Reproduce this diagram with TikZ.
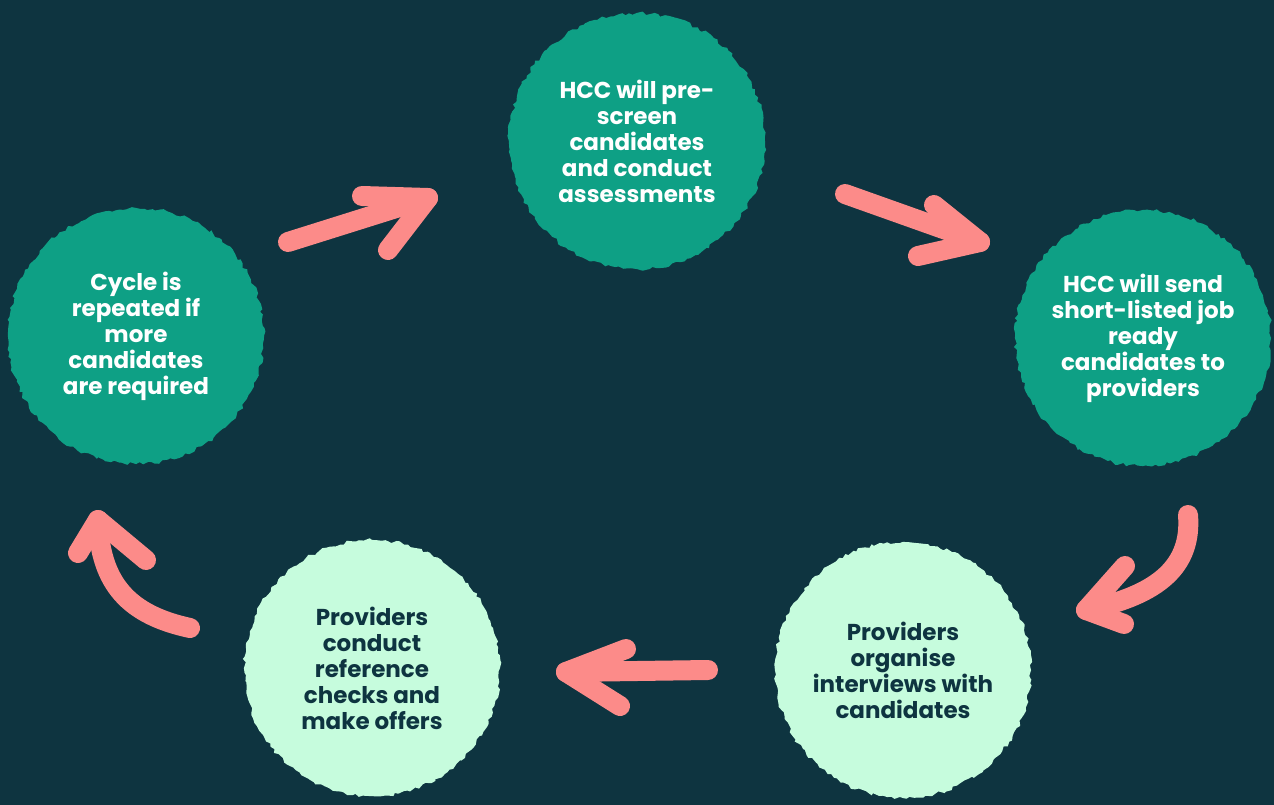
\documentclass[tikz,border=0pt]{standalone}
\usepackage{fontspec}
\setmainfont{Poppins}
\usepackage{tikz}
\usetikzlibrary{positioning, calc, decorations.pathmorphing}
\definecolor{bgTeal}{HTML}{0E3440}
\definecolor{darkBlob}{HTML}{0EA085}
\definecolor{lightBlob}{HTML}{C6FCDD}
\definecolor{arrowPink}{HTML}{FC8B89}
\tikzstyle{blob} = [circle, minimum size=256pt, inner sep=0pt, align=center, font=\fontsize{23}{26}\selectfont\bfseries,
    decorate, decoration={random steps, segment length=4pt, amplitude=1.8pt}]
\tikzstyle{darkstyle} = [fill=darkBlob, text=white]
\tikzstyle{lightstyle} = [fill=lightBlob, text=bgTeal]
\tikzstyle{stroke} = [draw=arrowPink, line width=20pt, line cap=round, line join=round]

\begin{document}
\begin{tikzpicture}[x=1pt, y=-1pt]

\fill[bgTeal] (0,0) rectangle (1274,805);
\useasboundingbox (0,0) rectangle (1274,805);

\node (prescreen) [blob, darkstyle] at (637,141) {HCC will pre-\\screen\\candidates\\and conduct\\assessments};
\node (send) [blob, darkstyle] at (1143,338) {HCC will send\\short-listed job\\ready\\candidates to\\providers};
\node (interview) [blob, lightstyle] at (903,670) {Providers\\organise\\interviews with\\candidates};
\node (offers) [blob, lightstyle] at (372,668) {Providers\\conduct\\reference\\checks and\\make offers};
\node (repeat) [blob, darkstyle] at (136,336) {Cycle is\\repeated if\\more\\candidates\\are required};

% arrow ends between the blobs
\coordinate (a1start) at (288,242);
\coordinate (a1tip) at (428,198);
\coordinate (a2start) at (845,194);
\coordinate (a2tip) at (980,242);
\coordinate (a3start) at (1188,515);
\coordinate (a3tip) at (1086,610);
\coordinate (a4start) at (708,670);
\coordinate (a4tip) at (566,672);
\coordinate (a5start) at (190,628);
\coordinate (a5tip) at (98,520);

% prescreen <- repeat
\draw [stroke] (a1start) -- (a1tip);
\draw [stroke] (362,196) -- (a1tip) -- (388,250);
% prescreen -> send
\draw [stroke] (a2start) -- (a2tip);
\draw [stroke] (934,205) -- (a2tip) -- (918,256);
% send -> interview
\draw [stroke] (a3start) .. controls (1192,565) and (1160,595) .. (a3tip);
\draw [stroke] (1125,566) -- (a3tip) -- (1124,624);
% interview -> offers
\draw [stroke] (a4start) -- (a4tip);
\draw [stroke] (626,649) -- (a4tip) -- (620,706);
% offers -> repeat
\draw [stroke] (a5start) .. controls (130,615) and (100,585) .. (a5tip);
\draw [stroke] (78,553) -- (a5tip) -- (146,560);

\end{tikzpicture}
\end{document}
